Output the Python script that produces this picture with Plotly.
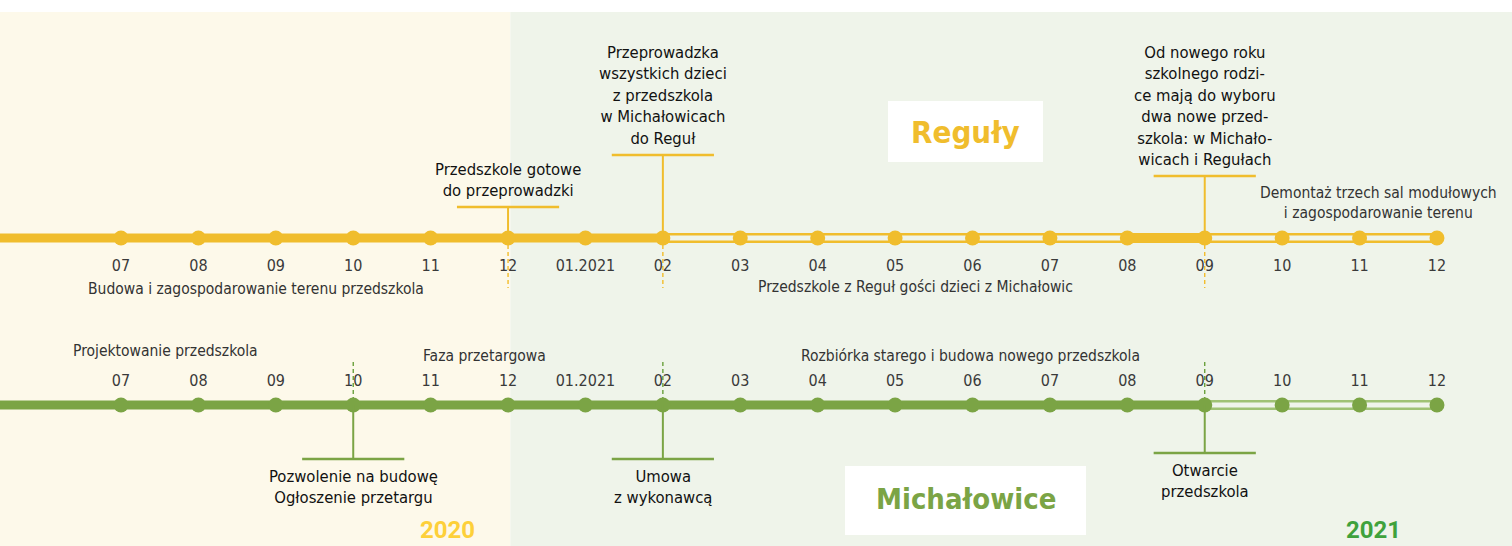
import plotly.graph_objects as go

# ---------------- data ----------------
months = ["07", "08", "09", "10", "11", "12", "01.2021", "02", "03", "04",
          "05", "06", "07", "08", "09", "10", "11", "12"]
month_idx = list(range(len(months)))

# Reguły (yellow) timeline: solid phases and "planned" (hollow) phase
reg_solid = [(-1.6, 7), (13, 14)]
reg_hollow = [(7, 17)]
reg_events = [5, 7, 14]
reg_event_text = [
    "Przedszkole gotowe<br>do przeprowadzki",
    "Przeprowadzka<br>wszystkich dzieci<br>z przedszkola<br>w Michałowicach<br>do Reguł",
    "Od nowego roku<br>szkolnego rodzi-<br>ce mają do wyboru<br>dwa nowe przed-<br>szkola: w Michało-<br>wicach i Regułach",
]
reg_phases = [
    (1.74, "Budowa i zagospodarowanie terenu przedszkola"),
    (10.26, "Przedszkole z Reguł gości dzieci z Michałowic"),
    (16.24, "Demontaż trzech sal modułowych<br>i zagospodarowanie terenu"),
]

# Michałowice (green) timeline
mic_solid = [(-1.6, 14)]
mic_hollow = [(14, 17)]
mic_events = [3, 7, 14]
mic_event_text = [
    "Pozwolenie na budowę<br>Ogłoszenie przetargu",
    "Umowa<br>z wykonawcą",
    "Otwarcie<br>przedszkola",
]
mic_phases = [
    (0.57, "Projektowanie przedszkola"),
    (4.69, "Faza przetargowa"),
    (10.97, "Rozbiórka starego i budowa nowego przedszkola"),
]

# ---------------- style ----------------
W, H = 1512, 546
PX = 77.41
X0 = -121 / PX
X1 = (W - 121) / PX
YEL = "#f0bd2d"
GRN = "#7ba445"
GRN_LIGHT = "#9fc274"
BG_2020 = "#fdf9ea"
BG_2021 = "#eff4ea"
SPLIT = 5.03
Y_REG = 238
Y_MIC = 405
COND = "Liberation Sans Narrow, DejaVu Sans Condensed, Roboto, sans-serif"


def px2x(p):
    return (p - 121) / PX


fig = go.Figure()
shapes = []
ann = []

# backgrounds
shapes.append(dict(type="rect", xref="x", yref="y", x0=X0, x1=SPLIT, y0=12, y1=H,
                   fillcolor=BG_2020, line_width=0, layer="below"))
shapes.append(dict(type="rect", xref="x", yref="y", x0=SPLIT, x1=X1, y0=12, y1=H,
                   fillcolor=BG_2021, line_width=0, layer="below"))

# dashed guides (below traces)
for xi in reg_events:
    shapes.append(dict(type="line", xref="x", yref="y", x0=xi, x1=xi, y0=Y_REG, y1=288,
                       line=dict(color="#f2b81c", width=1.3, dash="4px,3px"), layer="below"))
for xi in mic_events:
    shapes.append(dict(type="line", xref="x", yref="y", x0=xi, x1=xi, y0=362, y1=Y_MIC,
                       line=dict(color="#5f9a2e", width=1.3, dash="4px,3px"), layer="below"))


def timeline(y, solid, hollow, color, hollow_color):
    for a, b in hollow:
        fig.add_trace(go.Scatter(x=[a, b], y=[y, y], mode="lines",
                                 line=dict(color=hollow_color, width=10),
                                 hoverinfo="skip", showlegend=False))
        fig.add_trace(go.Scatter(x=[a, b], y=[y, y], mode="lines",
                                 line=dict(color=BG_2021, width=5),
                                 hoverinfo="skip", showlegend=False))
    for a, b in solid:
        fig.add_trace(go.Scatter(x=[a, b], y=[y, y], mode="lines",
                                 line=dict(color=color, width=9),
                                 hoverinfo="skip", showlegend=False))


timeline(Y_REG, reg_solid, reg_hollow, YEL, YEL)
timeline(Y_MIC, mic_solid, mic_hollow, GRN, GRN_LIGHT)

# event stems, bars
for xi, txt, bar_y in zip(reg_events, reg_event_text, [207, 155, 176]):
    shapes.append(dict(type="line", xref="x", yref="y", x0=xi, x1=xi, y0=Y_REG, y1=bar_y,
                       line=dict(color=YEL, width=2)))
    shapes.append(dict(type="line", xref="x", yref="y", x0=xi - 0.66, x1=xi + 0.66,
                       y0=bar_y, y1=bar_y, line=dict(color=YEL, width=2.5)))
    ann.append(dict(x=xi, y=bar_y - 5, xref="x", yref="y", text=txt, showarrow=False,
                    xanchor="center", yanchor="bottom",
                    font=dict(family=COND, size=16.5, color="#111111")))

for xi, txt, bar_y in zip(mic_events, mic_event_text, [459, 459, 453]):
    shapes.append(dict(type="line", xref="x", yref="y", x0=xi, x1=xi, y0=Y_MIC, y1=bar_y,
                       line=dict(color=GRN, width=2)))
    shapes.append(dict(type="line", xref="x", yref="y", x0=xi - 0.66, x1=xi + 0.66,
                       y0=bar_y, y1=bar_y, line=dict(color=GRN, width=2.5)))
    ann.append(dict(x=xi, y=bar_y + 6, xref="x", yref="y", text=txt, showarrow=False,
                    xanchor="center", yanchor="top",
                    font=dict(family=COND, size=16.5, color="#111111")))

# dots
fig.add_trace(go.Scatter(x=month_idx, y=[Y_REG] * len(months), mode="markers",
                         marker=dict(color=YEL, size=15, line_width=0),
                         hoverinfo="skip", showlegend=False))
fig.add_trace(go.Scatter(x=month_idx, y=[Y_MIC] * len(months), mode="markers",
                         marker=dict(color=GRN, size=15, line_width=0),
                         hoverinfo="skip", showlegend=False))

# month labels
fig.add_trace(go.Scatter(x=month_idx, y=[267] * len(months), mode="text", text=months,
                         textfont=dict(family=COND, size=16, color="#3a3a3a"),
                         hoverinfo="skip", showlegend=False))
fig.add_trace(go.Scatter(x=month_idx, y=[382] * len(months), mode="text", text=months,
                         textfont=dict(family=COND, size=16, color="#3a3a3a"),
                         hoverinfo="skip", showlegend=False))

# phase labels
for (xc, txt), yy in zip(reg_phases, [289, 287, 203]):
    ann.append(dict(x=xc, y=yy, xref="x", yref="y", text=txt, showarrow=False,
                    xanchor="center", yanchor="middle",
                    font=dict(family=COND, size=15.5, color="#333333")))
for (xc, txt), yy in zip(mic_phases, [351, 356, 356]):
    ann.append(dict(x=xc, y=yy, xref="x", yref="y", text=txt, showarrow=False,
                    xanchor="center", yanchor="middle",
                    font=dict(family=COND, size=15.5, color="#333333")))

# name boxes
shapes.append(dict(type="rect", xref="x", yref="y", x0=px2x(888), x1=px2x(1043),
                   y0=101, y1=162, fillcolor="white", line_width=0))
ann.append(dict(x=px2x(965.5), y=132, xref="x", yref="y", text="<b>Reguły</b>",
                showarrow=False, font=dict(family=COND, size=31, color=YEL)))
shapes.append(dict(type="rect", xref="x", yref="y", x0=px2x(845), x1=px2x(1086),
                   y0=466, y1=535, fillcolor="white", line_width=0))
ann.append(dict(x=px2x(965.5), y=499, xref="x", yref="y", text="<b>Michałowice</b>",
                showarrow=False, font=dict(family=COND, size=29, color=GRN)))

# years
ann.append(dict(x=px2x(447), y=530, xref="x", yref="y", text="<b>2020</b>",
                showarrow=False, font=dict(family="Roboto, sans-serif", size=24, color="#fdd03a")))
ann.append(dict(x=px2x(1373), y=530, xref="x", yref="y", text="<b>2021</b>",
                showarrow=False, font=dict(family="Roboto, sans-serif", size=24, color="#3fa23c")))

fig.update_layout(
    width=W, height=H, margin=dict(l=0, r=0, t=0, b=0),
    paper_bgcolor="white", plot_bgcolor="rgba(0,0,0,0)",
    xaxis=dict(range=[X0, X1], visible=False, fixedrange=True),
    yaxis=dict(range=[H, 0], visible=False, fixedrange=True),
    shapes=shapes, annotations=ann, showlegend=False,
)

fig.write_html(
    "out.html",
    config={"displayModeBar": False},
    post_script="document.body.style.margin='0';document.body.style.overflow='hidden';",
)
